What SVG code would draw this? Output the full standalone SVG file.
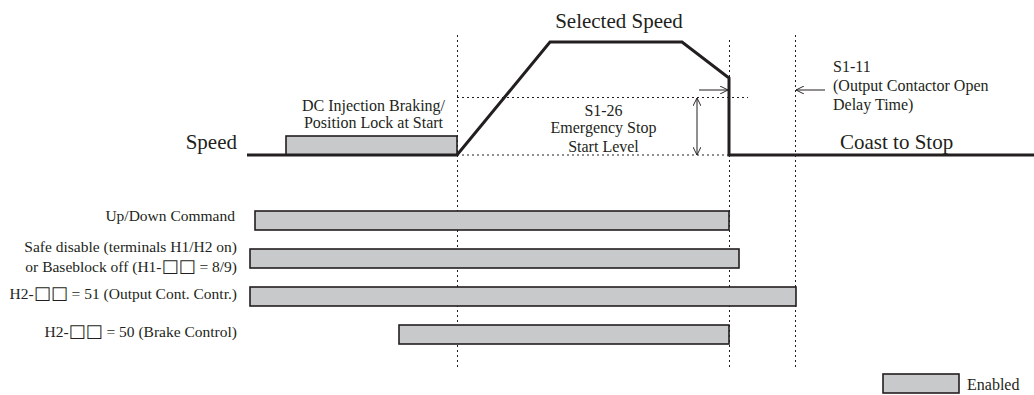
<svg xmlns="http://www.w3.org/2000/svg" width="1034" height="395" viewBox="0 0 1034 395">
<style>
text{font-family:"Liberation Serif","Times New Roman",serif;fill:#231f20}
.bar{fill:#c8c9cb;stroke:#231f20;stroke-width:1.6}
.dot{stroke:#231f20;stroke-width:1;stroke-dasharray:2,3;fill:none}
.spd{stroke:#231f20;stroke-width:3;fill:none;stroke-linejoin:miter}
.thin{stroke:#231f20;stroke-width:1;fill:none}
.lbl{font-size:15.5px;text-anchor:end}
.sq{font-family:"DejaVu Sans",sans-serif;font-size:18px}
.note{font-size:16px}
.big{font-size:21px}
</style>
<defs>
<marker id="ah" viewBox="0 0 10 10" refX="10" refY="5" markerWidth="8" markerHeight="8" orient="auto-start-reverse" markerUnits="userSpaceOnUse">
<path d="M0,0 L10,5 L0,10" fill="none" stroke="#231f20" stroke-width="1.2"/>
</marker>
</defs>
<rect width="1034" height="395" fill="#fff"/>
<g id="connectors">
<line class="dot" x1="457.5" y1="35" x2="457.5" y2="367"/>
<line class="dot" x1="729.5" y1="40" x2="729.5" y2="367"/>
<line class="dot" x1="795.5" y1="35" x2="795.5" y2="367"/>
<line class="dot" x1="457" y1="97.5" x2="748" y2="97.5"/>
<line class="dot" x1="457" y1="155" x2="729" y2="155"/>
<line class="thin" x1="697" y1="98" x2="697" y2="155" marker-start="url(#ah)" marker-end="url(#ah)"/>
<line class="thin" x1="699" y1="90" x2="728" y2="90" marker-end="url(#ah)"/>
<line class="thin" x1="825" y1="90" x2="796" y2="90" marker-end="url(#ah)"/>
</g>
<g id="dc-injection">
<rect class="bar" x="286" y="136" width="171" height="19"/>
<text class="note" x="373.5" y="111" text-anchor="middle">DC Injection Braking/</text>
<text class="note" x="373.5" y="128" text-anchor="middle">Position Lock at Start</text>
</g>
<g id="speed-curve">
<polyline class="spd" points="247,155 457,155 550,42 682,42 729,78 729,155 1034,155"/>
<text class="big" x="237" y="149" text-anchor="end">Speed</text>
<text class="big" x="619" y="28" text-anchor="middle">Selected Speed</text>
<text class="big" x="840" y="149">Coast to Stop</text>
</g>
<g id="s1-26">
<text class="note" x="603.5" y="116" text-anchor="middle">S1-26</text>
<text class="note" x="603.5" y="133" text-anchor="middle">Emergency Stop</text>
<text class="note" x="603.5" y="152" text-anchor="middle">Start Level</text>
</g>
<g id="s1-11">
<text class="note" x="833" y="72">S1-11</text>
<text class="note" x="833" y="91">(Output Contactor Open</text>
<text class="note" x="833" y="110">Delay Time)</text>
</g>
<g id="updown">
<rect class="bar" x="255" y="211" width="474" height="19"/>
<text class="lbl" x="235" y="221">Up/Down Command</text>
</g>
<g id="safe-disable">
<rect class="bar" x="250" y="249" width="489" height="19"/>
<text class="lbl" x="237" y="252">Safe disable (terminals H1/H2 on)</text>
<text class="lbl" x="237" y="272">or Baseblock off (H1-<tspan class="sq">□□</tspan> = 8/9)</text>
</g>
<g id="output-cont">
<rect class="bar" x="250" y="287" width="546" height="19"/>
<text class="lbl" x="237" y="299">H2-<tspan class="sq">□□</tspan> = 51 (Output Cont. Contr.)</text>
</g>
<g id="brake">
<rect class="bar" x="399" y="325" width="330" height="19"/>
<text class="lbl" x="237" y="337">H2-<tspan class="sq">□□</tspan> = 50 (Brake Control)</text>
</g>
<g id="legend">
<rect class="bar" x="883" y="374" width="76" height="19"/>
<text class="note" x="967" y="390">Enabled</text>
</g>
</svg>
